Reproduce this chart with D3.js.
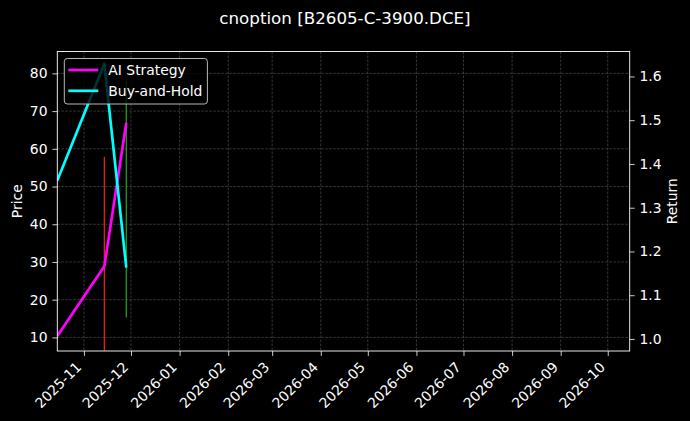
<!DOCTYPE html>
<html>
<head>
<meta charset="utf-8">
<script src="https://cdn.jsdelivr.net/npm/d3@7"></script>
<style>
  body { margin: 0; background: #000; }
  svg { display: block; font-family: 'DejaVu Sans', sans-serif; }
</style>
</head>
<body>
<div id="chart"></div>
<script>
// data
let dates = ['2025-10-15', '2025-11-14', '2025-11-28']
let strategyReturn = [1.007, 1.166, 1.494]
let buyHoldReturn = [1.362, 1.629, 1.163]

// trade markers (vertical lines on the price axis)
let signalDates = ['2025-11-14', '2025-11-28']
let signalLow = [0, 15.3]
let signalHigh = [57.9, 78]
let signalColors = ['#e8200c', '#1f9a1f']

let priceTicks = [10, 20, 30, 40, 50, 60, 70, 80]
let returnTicks = [1.0, 1.1, 1.2, 1.3, 1.4, 1.5, 1.6]
let xDomain = ['2025-10-15', '2026-10-15']

let title = 'cnoption [B2605-C-3900.DCE]'

let margin = { top: 51.5, left: 57.3, right: 60.3, bottom: 70 }
let totalWidth = 690
let totalHeight = 421
let width = totalWidth - margin.left - margin.right
let height = totalHeight - margin.top - margin.bottom

let parse = d3.timeParse('%Y-%m-%d')

let svg = d3
  .select('#chart')
  .append('svg')
  .attr('width', totalWidth)
  .attr('height', totalHeight)

svg
  .append('rect')
  .attr('width', totalWidth)
  .attr('height', totalHeight)
  .attr('fill', '#000')

svg
  .append('text')
  .text(title)
  .attr('x', totalWidth / 2)
  .attr('y', 24)
  .attr('text-anchor', 'middle')
  .attr('fill', '#fff')
  .attr('font-size', 16.7)

let g = svg
  .append('g')
  .attr('transform', `translate(${margin.left},${margin.top})`)

// scales
let xPositionScale = d3
  .scaleTime()
  .domain(xDomain.map(parse))
  .range([0, width])

let priceScale = d3.scaleLinear().domain([6.4, 85.8]).range([height, 0])

let returnScale = d3.scaleLinear().domain([0.9725, 1.657]).range([height, 0])

let monthTicks = d3.timeMonth.range(parse('2025-11-01'), parse('2026-10-02'))

// grid
let grid = g.append('g').attr('class', 'grid')
grid
  .selectAll('.vgrid')
  .data(monthTicks)
  .enter()
  .append('line')
  .attr('x1', d => xPositionScale(d))
  .attr('x2', d => xPositionScale(d))
  .attr('y1', 0)
  .attr('y2', height)
grid
  .selectAll('.hgrid')
  .data(priceTicks)
  .enter()
  .append('line')
  .attr('x1', 0)
  .attr('x2', width)
  .attr('y1', d => priceScale(d))
  .attr('y2', d => priceScale(d))
grid
  .selectAll('line')
  .attr('stroke', '#454545')
  .attr('stroke-width', 0.8)
  .attr('stroke-dasharray', '2.5,1.5')

g.append('clipPath')
  .attr('id', 'plot-clip')
  .append('rect')
  .attr('width', width)
  .attr('height', height)

let plot = g.append('g').attr('clip-path', 'url(#plot-clip)')

// signal lines
plot
  .selectAll('.signal')
  .data(signalDates)
  .enter()
  .append('line')
  .attr('class', 'signal')
  .attr('x1', d => xPositionScale(parse(d)))
  .attr('x2', d => xPositionScale(parse(d)))
  .attr('y1', (d, i) => priceScale(signalLow[i]))
  .attr('y2', (d, i) => priceScale(signalHigh[i]))
  .attr('stroke', (d, i) => signalColors[i])
  .attr('stroke-width', 1.3)

let line = d3
  .line()
  .x(d => xPositionScale(d.date))
  .y(d => returnScale(d.value))

let series = [
  { name: 'AI Strategy', color: '#ff00ff', values: strategyReturn },
  { name: 'Buy-and-Hold', color: '#00ffff', values: buyHoldReturn }
]

series.forEach(s => {
  plot
    .append('path')
    .datum(dates.map((d, i) => ({ date: parse(d), value: s.values[i] })))
    .attr('d', line)
    .attr('fill', 'none')
    .attr('stroke', s.color)
    .attr('stroke-width', 2.7)
    .attr('stroke-linejoin', 'round')
})

// axes
let xAxis = d3
  .axisBottom(xPositionScale)
  .tickValues(monthTicks)
  .tickFormat(d3.timeFormat('%Y-%m'))
  .tickSize(4.9)
  .tickPadding(4.9)

g.append('g')
  .attr('class', 'axis x-axis')
  .attr('transform', `translate(0,${height})`)
  .call(xAxis)
  .selectAll('text')
  .attr('text-anchor', 'end')
  .attr('dy', null)
  .attr('y', null)
  .attr('transform', 'translate(-2.3,16.9) rotate(-45)')

let yAxis = d3
  .axisLeft(priceScale)
  .tickValues(priceTicks)
  .tickFormat(d3.format('d'))
  .tickSize(4.9)
  .tickPadding(4.9)

g.append('g')
  .attr('class', 'axis y-axis')
  .call(yAxis)

let yAxisRight = d3
  .axisRight(returnScale)
  .tickValues(returnTicks)
  .tickFormat(d3.format('.1f'))
  .tickSize(4.9)
  .tickPadding(4.9)

g.append('g')
  .attr('class', 'axis y-axis-right')
  .attr('transform', `translate(${width},0)`)
  .call(yAxisRight)

g.selectAll('.axis .domain').remove()
g.selectAll('.axis line').attr('stroke', '#fff').attr('stroke-width', 0.8)
g.selectAll('.axis text')
  .attr('fill', '#fff')
  .attr('font-size', 13.9)
  .attr('font-family', 'DejaVu Sans, sans-serif')

// frame
g.append('rect')
  .attr('width', width)
  .attr('height', height)
  .attr('fill', 'none')
  .attr('stroke', '#fff')
  .attr('stroke-width', 0.9)

// axis labels
svg
  .append('text')
  .text('Price')
  .attr('transform', `translate(22,${margin.top + height / 2}) rotate(-90)`)
  .attr('text-anchor', 'middle')
  .attr('fill', '#fff')
  .attr('font-size', 13.9)

svg
  .append('text')
  .text('Return')
  .attr('transform', `translate(677,${margin.top + height / 2}) rotate(-90)`)
  .attr('text-anchor', 'middle')
  .attr('fill', '#fff')
  .attr('font-size', 13.9)

// legend
let legend = g.append('g').attr('transform', 'translate(7,7)')
let legendBox = legend
  .append('rect')
  .attr('rx', 3)
  .attr('fill', '#000')
  .attr('fill-opacity', 0.8)
  .attr('stroke', '#cccccc')
  .attr('stroke-width', 0.9)

let rows = legend
  .selectAll('.legend-row')
  .data(series)
  .enter()
  .append('g')
  .attr('class', 'legend-row')
  .attr('transform', (d, i) => `translate(0,${11.5 + i * 20.8})`)

rows
  .append('line')
  .attr('x1', 4)
  .attr('x2', 34)
  .attr('stroke', d => d.color)
  .attr('stroke-width', 2.7)

rows
  .append('text')
  .text(d => d.name)
  .attr('x', 44)
  .attr('dy', '0.35em')
  .attr('fill', '#fff')
  .attr('font-size', 13.9)

let maxText = d3.max(rows.selectAll('text').nodes(), n => n.getComputedTextLength())
legendBox.attr('width', 44 + maxText + 5).attr('height', 45.5)
</script>
</body>
</html>
